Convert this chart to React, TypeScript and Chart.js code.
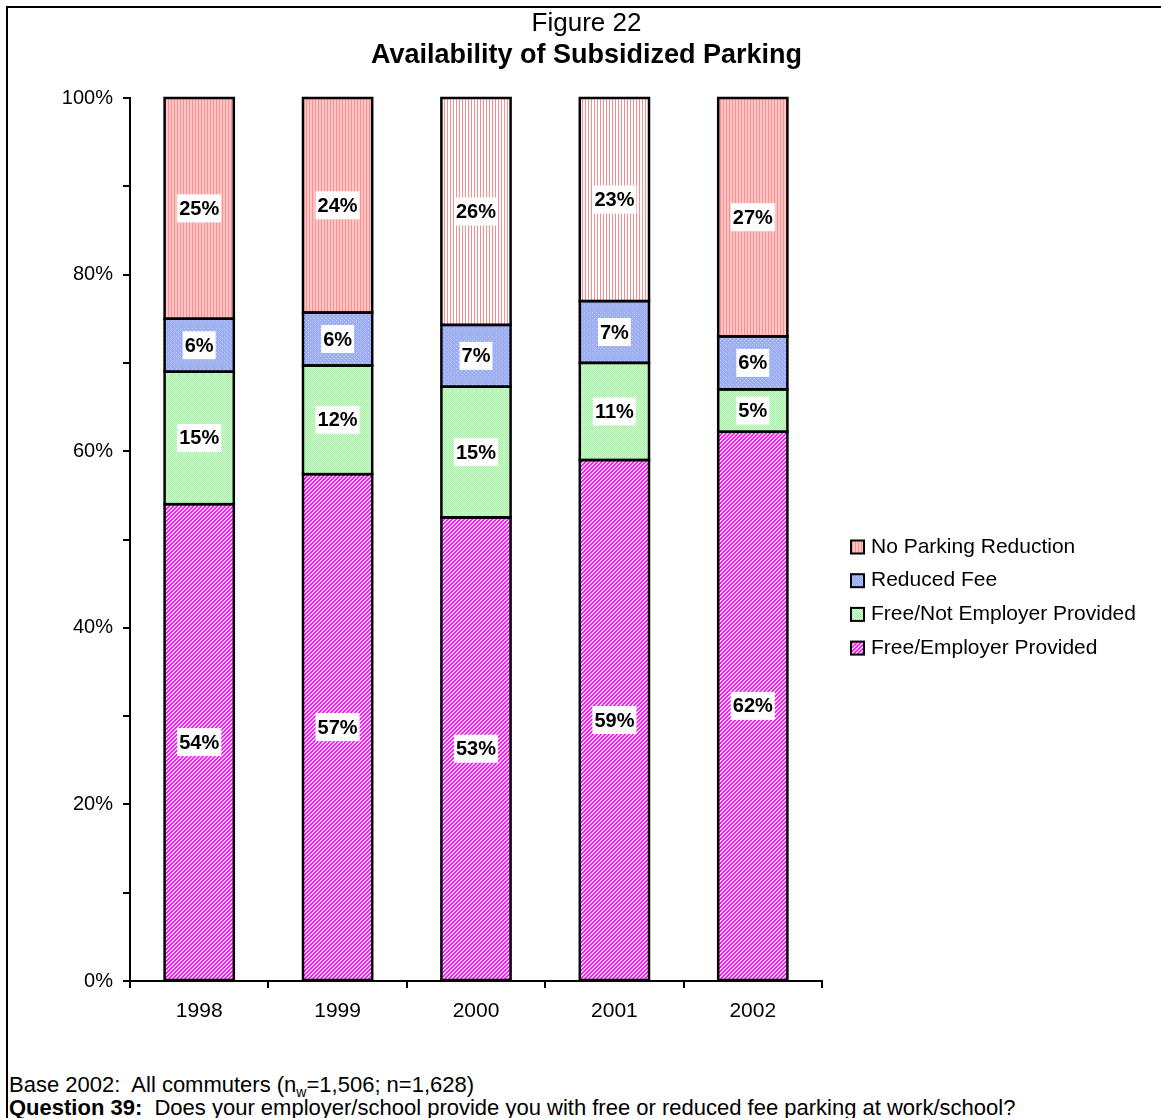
import React, { useEffect, useRef } from 'react';
import { Chart, registerables } from 'chart.js';

Chart.register(...registerables);

// ---- Data ----
const years = ['1998', '1999', '2000', '2001', '2002'];
const freeEmployer = [54, 57.4, 52.5, 59, 62.2];
const freeNotEmployer = [15, 12.3, 14.8, 11, 4.8];
const reducedFee = [6, 6, 7, 7, 6];
const noReduction = [25, 24.3, 25.7, 23, 27];
const seriesNames = ['Free/Employer Provided', 'Free/Not Employer Provided', 'Reduced Fee', 'No Parking Reduction'];
const lightStripeYears = ['2000', '2001'];
const yTickStep = 10;
const yLabelStep = 20;

const FONT = "'Liberation Sans', Arial, Helvetica, sans-serif";

function makePattern(w: number, h: number, draw: (c: CanvasRenderingContext2D) => void): CanvasPattern | string {
  const cv = document.createElement('canvas');
  cv.width = w;
  cv.height = h;
  const c = cv.getContext('2d');
  if (!c) return '#ccc';
  draw(c);
  const ctx2 = document.createElement('canvas').getContext('2d');
  return (ctx2 && ctx2.createPattern(cv, 'repeat')) || '#ccc';
}

function buildPatterns() {
  const pinkStripe = makePattern(3, 1, (c) => {
    c.fillStyle = '#FFC6C6';
    c.fillRect(0, 0, 3, 1);
    c.fillStyle = '#FF8F8F';
    c.fillRect(0, 0, 1, 1);
  });
  const whiteStripe = makePattern(3, 1, (c) => {
    c.fillStyle = '#FFFFFF';
    c.fillRect(0, 0, 3, 1);
    c.fillStyle = '#FF8C8C';
    c.fillRect(0, 0, 1, 1);
  });
  const blueDots = makePattern(4, 4, (c) => {
    c.fillStyle = '#9CADFF';
    c.fillRect(0, 0, 4, 4);
    c.fillStyle = '#C9D2FF';
    c.fillRect(0, 0, 1, 1);
    c.fillRect(2, 2, 1, 1);
  });
  const greenCheck = makePattern(2, 2, (c) => {
    c.fillStyle = '#E2FFE2';
    c.fillRect(0, 0, 2, 2);
    c.fillStyle = '#9AF09A';
    c.fillRect(0, 0, 1, 1);
    c.fillRect(1, 1, 1, 1);
  });
  const magentaDiag = makePattern(4, 4, (c) => {
    for (let x = 0; x < 4; x++) {
      for (let y = 0; y < 4; y++) {
        const k = (x + y) % 4;
        c.fillStyle = k === 2 || k === 3 ? '#EE22EE' : '#FFC4FF';
        c.fillRect(x, y, 1, 1);
      }
    }
  });
  return { pinkStripe, whiteStripe, blueDots, greenCheck, magentaDiag };
}

export default function App() {
  const canvasRef = useRef<HTMLCanvasElement | null>(null);

  useEffect(() => {
    const canvas = canvasRef.current;
    if (!canvas) return;
    const pat = buildPatterns();
    const seriesValues = [freeEmployer, freeNotEmployer, reducedFee, noReduction];
    const fills: any[] = [
      pat.magentaDiag,
      pat.greenCheck,
      pat.blueDots,
      years.map((y) => (lightStripeYears.includes(y) ? pat.whiteStripe : pat.pinkStripe)),
    ];
    const legendFills = [pat.magentaDiag, pat.greenCheck, pat.blueDots, pat.pinkStripe];

    const overlay = {
      id: 'overlay',
      afterDatasetsDraw(chart: any) {
        const ctx = chart.ctx as CanvasRenderingContext2D;
        ctx.save();
        ctx.lineWidth = 2.5;
        ctx.strokeStyle = '#000';
        chart.data.datasets.forEach((_ds: any, di: number) => {
          const meta = chart.getDatasetMeta(di);
          meta.data.forEach((el: any) => {
            const p = el.getProps(['x', 'y', 'base', 'width'], true);
            const top = Math.min(p.y, p.base);
            ctx.strokeRect(p.x - p.width / 2, top, p.width, Math.abs(p.base - p.y));
          });
        });
        ctx.font = `bold 20px ${FONT}`;
        ctx.textAlign = 'center';
        ctx.textBaseline = 'middle';
        chart.data.datasets.forEach((ds: any, di: number) => {
          const meta = chart.getDatasetMeta(di);
          meta.data.forEach((el: any, i: number) => {
            const p = el.getProps(['x', 'y', 'base'], true);
            const txt = Math.round(ds.data[i]) + '%';
            const cy = (p.y + p.base) / 2;
            const tw = ctx.measureText(txt).width;
            ctx.fillStyle = '#fff';
            ctx.fillRect(p.x - tw / 2 - 2, cy - 14, tw + 4, 28);
            ctx.fillStyle = '#000';
            ctx.fillText(txt, p.x, cy + 1);
          });
        });
        ctx.restore();
      },
      afterDraw(chart: any) {
        const ctx = chart.ctx as CanvasRenderingContext2D;
        const area = chart.chartArea;
        const x0 = area.right + 29;
        const yStart = area.top + 449;
        const gap = 33.7;
        ctx.save();
        ctx.font = `21px ${FONT}`;
        ctx.textAlign = 'left';
        ctx.textBaseline = 'middle';
        for (let k = 0; k < seriesNames.length; k++) {
          const idx = seriesNames.length - 1 - k;
          const cy = yStart + k * gap;
          ctx.fillStyle = legendFills[idx] as any;
          ctx.fillRect(x0, cy - 6.5, 13, 13);
          ctx.lineWidth = 2;
          ctx.strokeStyle = '#000';
          ctx.strokeRect(x0, cy - 6.5, 13, 13);
          ctx.fillStyle = '#000';
          ctx.fillText(seriesNames[idx], x0 + 20, cy);
        }
        ctx.restore();
      },
    };

    const chart = new Chart(canvas, {
      type: 'bar',
      data: {
        labels: years,
        datasets: seriesNames.map((name, i) => ({
          label: name,
          data: seriesValues[i],
          backgroundColor: fills[i],
          borderWidth: 0,
          barPercentage: 0.5,
          categoryPercentage: 1.0,
        })),
      },
      options: {
        responsive: false,
        animation: false,
        layout: { padding: { left: 12, right: 0, top: 0, bottom: 0 } },
        plugins: {
          legend: { display: false },
          tooltip: { enabled: false },
          title: {
            display: true,
            text: 'Figure 22',
            color: '#000',
            font: { family: FONT, size: 26, weight: 'normal', lineHeight: 1.2 },
            padding: { top: 8, bottom: 0 },
          },
          subtitle: {
            display: true,
            text: 'Availability of Subsidized Parking',
            color: '#000',
            font: { family: FONT, size: 27, weight: 'bold', lineHeight: 1.2 },
            padding: { top: 0, bottom: 26.4 },
          },
        },
        scales: {
          x: {
            stacked: true,
            grid: {
              offset: true,
              drawOnChartArea: false,
              drawTicks: true,
              tickLength: 7,
              color: '#000',
              lineWidth: 2,
            },
            border: { display: true, color: '#000', width: 2 },
            ticks: { color: '#000', font: { family: FONT, size: 21 }, padding: 11 },
            afterFit: (s: any) => {
              s.height = 79;
            },
          },
          y: {
            stacked: true,
            min: 0,
            max: 100,
            position: 'left',
            grid: {
              drawOnChartArea: false,
              drawTicks: true,
              tickLength: 7,
              color: '#000',
              lineWidth: 2,
            },
            border: { display: true, color: '#000', width: 2 },
            ticks: {
              stepSize: yTickStep,
              autoSkip: false,
              color: '#000',
              font: { family: FONT, size: 20 },
              padding: 10,
              callback: (v: any) => (Number(v) % yLabelStep === 0 ? v + '%' : ''),
            },
            afterFit: (s: any) => {
              s.width = 118;
            },
          },
          spacer: {
            type: 'linear',
            position: 'right',
            display: true,
            grid: { display: false, drawTicks: false },
            border: { display: false },
            ticks: { display: false },
            afterFit: (s: any) => {
              s.width = 339;
            },
          },
        },
      } as any,
      plugins: [overlay],
    });
    return () => chart.destroy();
  }, []);

  return (
    <div
      style={{
        position: 'fixed',
        left: 0,
        top: 0,
        width: 1161,
        height: 1118,
        overflow: 'hidden',
        background: '#fff',
      }}
    >
      <div
        style={{
          position: 'absolute',
          left: 6,
          top: 6,
          width: 1162,
          height: 1200,
          border: '2px solid #000',
          boxSizing: 'border-box',
        }}
      />
      <canvas
        ref={canvasRef}
        width={1161}
        height={1060}
        style={{ position: 'absolute', left: 0, top: 0, display: 'block' }}
      />
      <div
        style={{
          position: 'absolute',
          left: 9,
          top: 1073,
          fontFamily: FONT,
          fontSize: 22,
          lineHeight: '23px',
          color: '#000',
          whiteSpace: 'pre',
        }}
      >
        <div>
          {'Base 2002:  All commuters (n'}
          <span style={{ fontSize: 14, position: 'relative', top: 5, lineHeight: 0 }}>w</span>
          {'=1,506; n=1,628)'}
        </div>
        <div>
          <b>Question 39:</b>
          {'  Does your employer/school provide you with free or reduced fee parking at work/school?'}
        </div>
      </div>
    </div>
  );
}
